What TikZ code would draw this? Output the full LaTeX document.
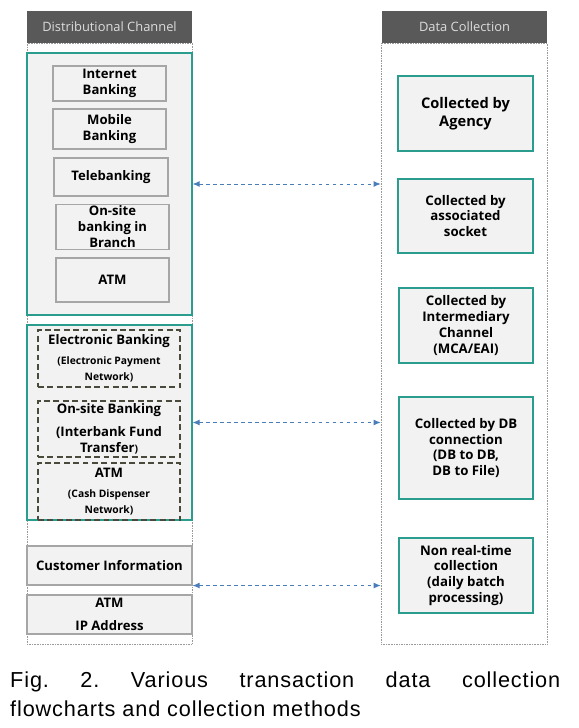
\documentclass[tikz,border=0pt]{standalone}
\usepackage{fontspec}
\setmainfont{Open Sans}
\newfontfamily\capfont{Liberation Sans}[LetterSpace=4]
\usetikzlibrary{arrows.meta}

\definecolor{hdrgray}{HTML}{595959}
\definecolor{hdrtext}{HTML}{DCDCDC}
\definecolor{panelteal}{HTML}{2A9D8F}
\definecolor{boxfill}{HTML}{F2F2F2}
\definecolor{boxline}{HTML}{A6A6A6}
\definecolor{dashline}{HTML}{4A4A3C}
\definecolor{linkblue}{HTML}{4A7EBB}

\newcommand{\smalltxt}{\fontsize{8.8}{11.5}\selectfont}

\tikzset{
  header/.style={fill=hdrgray, text=hdrtext, minimum width=4.95cm, minimum height=0.96cm, font=\fontsize{11}{12}\selectfont},
  column/.style={draw=gray!80, densely dotted, minimum width=4.95cm, minimum height=18.03cm},
  panel/.style={draw=panelteal, line width=0.9pt, fill=boxfill, minimum width=4.95cm},
  chanbox/.style={draw=boxline, line width=0.9pt, fill=boxfill, align=center, font=\bfseries\fontsize{11.2}{13.6}\selectfont, inner sep=1pt},
  netbox/.style={draw=dashline, dash pattern=on 5pt off 3pt, line width=0.9pt, align=center, minimum width=4.26cm, font=\bfseries\fontsize{11.2}{13.6}\selectfont, inner sep=1pt},
  collbox/.style={draw=panelteal, line width=0.9pt, fill=boxfill, align=center, font=\bfseries\fontsize{11.3}{13.6}\selectfont, inner sep=1pt},
  link/.style={draw=linkblue, dashed, line width=0.8pt, {Latex[length=6pt,width=5pt]}-{Latex[length=6pt,width=5pt]}}
}

\begin{document}
\begin{tikzpicture}[x=0.03cm, y=-0.03cm]
  \useasboundingbox (0,0) rectangle (578,728);

  % left column
  \node[column] (colL) at (109.5,343.5) {};
  \node[header] (hdrL) at (109.5,27) {Distributional Channel};

  \node[panel, minimum height=7.86cm] (panel1) at (109.5,184) {};
  \node[chanbox, minimum width=3.39cm, minimum height=1.05cm] (inet) at (109.5,83.5) {Internet\\Banking};
  \node[chanbox, minimum width=3.39cm, minimum height=1.2cm] (mobile) at (109.5,129) {Mobile\\Banking};
  \node[chanbox, minimum width=3.42cm, minimum height=1.14cm] (tele) at (111,177) {Telebanking};
  \node[chanbox, minimum width=3.39cm, minimum height=1.32cm] (onsite) at (112.5,227) {On-site\\banking in\\Branch};
  \node[chanbox, minimum width=3.39cm, minimum height=1.32cm] (atmA) at (112.5,280) {ATM};

  \node[panel, minimum height=5.85cm] (panel2) at (109.5,422.5) {};
  \node[netbox, minimum height=1.71cm] (ebank) at (109,358.5)
    {Electronic Banking\\[3pt]\smalltxt(Electronic Payment\\\smalltxt Network)};
  \node[netbox, minimum height=1.68cm] (obank) at (109,429)
    {On-site Banking\\[6pt](Interbank Fund\\Transfer{\smalltxt)}};
  \node[netbox, minimum height=1.71cm] (atmB) at (109,491.5)
    {ATM\\[3pt]\smalltxt(Cash Dispenser\\\smalltxt Network)};

  \node[chanbox, minimum width=4.95cm, minimum height=1.17cm] (cust) at (109.5,565.5) {Customer Information};
  \node[chanbox, minimum width=4.95cm, minimum height=1.17cm] (ipaddr) at (109.5,614.5) {ATM\\[6pt]IP Address};

  % right column
  \node[column, minimum width=4.98cm] (colR) at (464,343.5) {};
  \node[header] (hdrR) at (464.5,27) {Data Collection};

  \node[collbox, minimum width=4.05cm, minimum height=2.25cm, font=\bfseries\fontsize{12.5}{15}\selectfont] (agency) at (465.5,113.5) {Collected by\\Agency};
  \node[collbox, minimum width=4.05cm, minimum height=2.22cm] (socket) at (465.5,216) {Collected by\\associated\\socket};
  \node[collbox, minimum width=4.02cm, minimum height=2.25cm] (inter) at (466,325.5) {Collected by\\Intermediary\\Channel\\(MCA/EAI)};
  \node[collbox, minimum width=4.02cm, minimum height=3.06cm] (dbconn) at (466,448) {Collected by DB\\connection\\(DB to DB,\\DB to File)};
  \node[collbox, minimum width=4.02cm, minimum height=2.25cm] (batch) at (466,575.5) {Non real-time\\collection\\(daily batch\\processing)};

  % links
  \draw[link] (panel1.east) -- (panel1.east -| colR.west);
  \draw[link] (panel2.east) -- (panel2.east -| colR.west);
  \draw[link] (cust.south east) -- (cust.south east -| colR.west);

  % caption
  \node[anchor=north west, text width=16.5cm, inner sep=0pt, align=justify,
        font=\capfont\fontsize{18.5}{24.6}\selectfont] (caption) at (10,672)
    {Fig.\ 2.\ Various transaction data collection\linebreak flowcharts and collection methods};
\end{tikzpicture}
\end{document}
